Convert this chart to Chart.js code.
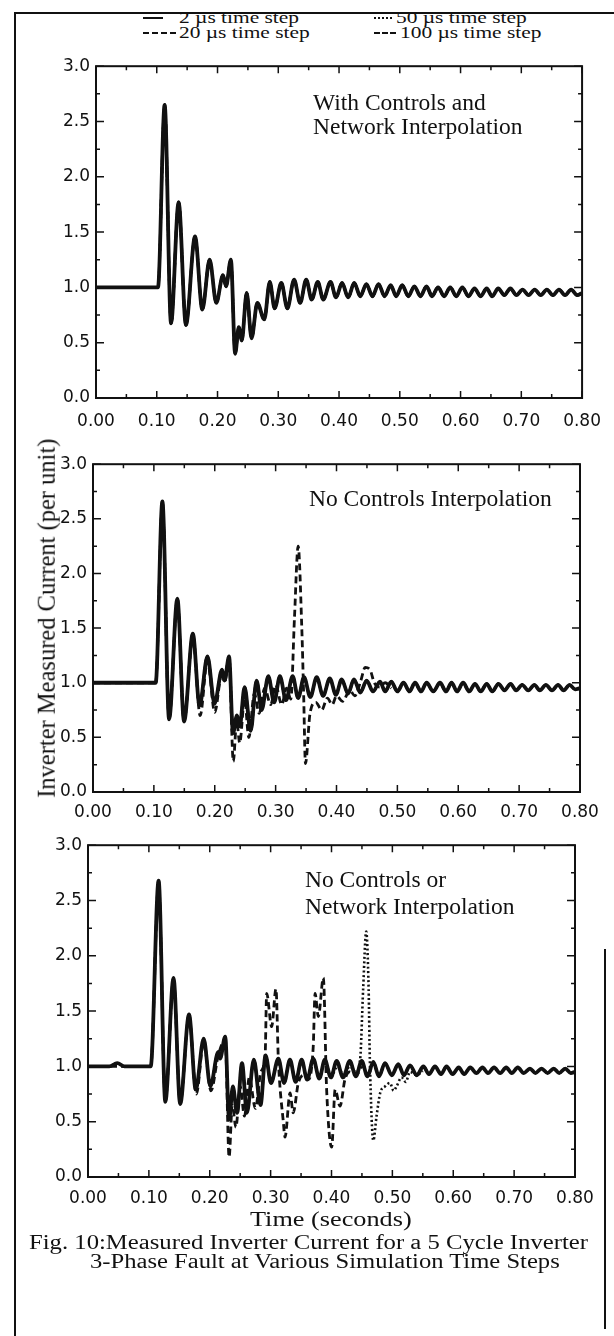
<!DOCTYPE html>
<html>
<head>
<meta charset="utf-8">
<script src="https://cdn.jsdelivr.net/npm/chart.js@4.4.0/dist/chart.umd.min.js"></script>
<style>
    body { margin: 0; background: #fff; }
    #page { position: relative; width: 614px; height: 1336px; overflow: hidden; color: #111;
            font-family: "Liberation Serif", "Times New Roman", serif; }
    .line { position: absolute; background: #111; }
    .txt { position: absolute; white-space: nowrap; line-height: 1; transform-origin: left center; }
    .sample { position: absolute; height: 0; border-top: 2px solid #111; }
    canvas { position: absolute; left: 0; }
</style>
</head>
<body>
<div id="page">
    <div class="line" style="left:14px;top:12px;width:2px;height:1324px"></div>
    <div class="line" style="left:14px;top:12px;width:600px;height:2px"></div>
    <div class="line" style="left:604px;top:949px;width:2px;height:380px"></div>

    <span class="sample" style="left:143px;top:17px;width:20px"></span>
    <div class="txt" style="left:179px;top:9px;font-size:17px;transform:scaleX(1.26)">2 µs time step</div>
    <span class="sample" style="left:374px;top:17px;width:18px;border-top-style:dotted"></span>
    <div class="txt" style="left:396px;top:9px;font-size:17px;transform:scaleX(1.26)">50 µs time step</div>
    <span class="sample" style="left:143px;top:32px;width:33px;border-top-style:dashed"></span>
    <div class="txt" style="left:179px;top:24px;font-size:17px;transform:scaleX(1.26)">20 µs time step</div>
    <span class="sample" style="left:374px;top:32px;width:22px;border-top-style:dashed"></span>
    <div class="txt" style="left:400px;top:24px;font-size:17px;transform:scaleX(1.26)">100 µs time step</div>

    <canvas id="c1" width="614" height="385" style="top:50px"></canvas>
    <canvas id="c2" width="614" height="380" style="top:448px"></canvas>
    <canvas id="c3" width="614" height="384" style="top:829px"></canvas>

    <div class="txt" style="left:313px;top:91px;font-size:23.5px">With Controls and</div>
    <div class="txt" style="left:313px;top:115px;font-size:23.5px">Network Interpolation</div>
    <div class="txt" style="left:309px;top:487px;font-size:23.5px">No Controls Interpolation</div>
    <div class="txt" style="left:305px;top:868px;font-size:23.5px">No Controls or</div>
    <div class="txt" style="left:305px;top:895px;font-size:23.5px">Network Interpolation</div>

    <div class="txt" style="left:-153px;top:606px;width:400px;text-align:center;font-size:24.5px;transform:rotate(-90deg);transform-origin:center">Inverter Measured Current (per unit)</div>
    <div class="txt" style="left:250px;top:1209px;font-size:21px;transform:scaleX(1.25)">Time (seconds)</div>
    <div class="txt" style="left:29px;top:1232px;font-size:20px;transform:scaleX(1.235)">Fig. 10:Measured Inverter Current for a 5 Cycle Inverter</div>
    <div class="txt" style="left:90px;top:1251px;font-size:20px;transform:scaleX(1.23)">3-Phase Fault at Various Simulation Time Steps</div>
</div>
<script>
// panel 1: with controls and network interpolation (all time steps overlap)
const p1Time = [0, 0.102, 0.113, 0.1235, 0.136, 0.148, 0.163, 0.175, 0.187, 0.198,
    0.209, 0.214, 0.222, 0.229, 0.235, 0.240, 0.248, 0.256, 0.2655, 0.277,
    0.286, 0.294, 0.305, 0.315, 0.326, 0.336, 0.346, 0.355, 0.365, 0.374,
    0.386, 0.395, 0.405, 0.415, 0.425, 0.435, 0.445, 0.455, 0.465, 0.475,
    0.485, 0.494, 0.504, 0.514, 0.524, 0.534, 0.544, 0.553, 0.563, 0.573,
    0.583, 0.593, 0.603, 0.613, 0.623, 0.633, 0.643, 0.652, 0.662, 0.672,
    0.682, 0.692, 0.702, 0.712, 0.722, 0.732, 0.742, 0.752, 0.762, 0.772,
    0.782, 0.792, 0.80];
const p1Current = [1.0, 1.0, 2.65, 0.675, 1.77, 0.66, 1.46, 0.80, 1.25, 0.86,
    1.11, 1.01, 1.25, 0.40, 0.64, 0.52, 0.95, 0.54, 0.86, 0.71,
    1.05, 0.81, 1.04, 0.81, 1.07, 0.86, 1.07, 0.89, 1.05, 0.89,
    1.05, 0.91, 1.04, 0.91, 1.04, 0.92, 1.03, 0.92, 1.03, 0.92,
    1.02, 0.92, 1.02, 0.92, 1.01, 0.92, 1.01, 0.92, 1.0, 0.92,
    1.0, 0.92, 1.0, 0.92, 0.99, 0.92, 0.99, 0.92, 0.99, 0.93,
    0.99, 0.93, 0.98, 0.93, 0.98, 0.93, 0.98, 0.93, 0.98, 0.93,
    0.98, 0.93, 0.95];

// panel 2: no controls interpolation
const p2Time = [0, 0.103, 0.114, 0.125, 0.1386, 0.1496, 0.164, 0.175, 0.188, 0.1997,
    0.212, 0.216, 0.2235, 0.230, 0.2365, 0.241, 0.249, 0.259, 0.2687, 0.277,
    0.288, 0.2976, 0.307, 0.317, 0.328, 0.337, 0.3466, 0.357, 0.3675, 0.378,
    0.389, 0.399, 0.4085, 0.419, 0.4287, 0.439, 0.4496, 0.46, 0.4715, 0.48,
    0.49, 0.50, 0.51, 0.52, 0.529, 0.539, 0.548, 0.559, 0.570, 0.58,
    0.589, 0.598, 0.608, 0.618, 0.6275, 0.637, 0.6467, 0.656, 0.666, 0.676,
    0.686, 0.695, 0.705, 0.715, 0.725, 0.734, 0.744, 0.754, 0.764, 0.773,
    0.783, 0.792, 0.80];
const p2Current = [1.0, 1.0, 2.66, 0.665, 1.77, 0.645, 1.45, 0.79, 1.24, 0.81,
    1.12, 1.02, 1.24, 0.54, 0.70, 0.60, 0.96, 0.56, 1.02, 0.75,
    1.06, 0.82, 1.06, 0.84, 1.06, 0.86, 1.05, 0.87, 1.05, 0.88,
    1.04, 0.89, 1.03, 0.90, 1.03, 0.91, 1.02, 0.92, 1.01, 0.92,
    1.01, 0.92, 1.0, 0.92, 1.0, 0.92, 1.0, 0.92, 1.0, 0.92,
    1.0, 0.92, 1.0, 0.92, 0.99, 0.92, 0.99, 0.92, 0.99, 0.93,
    0.99, 0.93, 0.98, 0.93, 0.98, 0.93, 0.98, 0.93, 0.98, 0.93,
    0.98, 0.94, 0.95];
const p2Dash100Time = [0, 0.103, 0.114, 0.125, 0.1386, 0.1496, 0.164, 0.176, 0.188, 0.200,
    0.212, 0.216, 0.2235, 0.2305, 0.236, 0.241, 0.249, 0.256, 0.265, 0.273,
    0.282, 0.292, 0.30, 0.31, 0.318, 0.325, 0.331, 0.337, 0.343, 0.346,
    0.349, 0.3565, 0.366, 0.3757, 0.385, 0.393, 0.40, 0.41, 0.422, 0.43,
    0.44, 0.447, 0.455, 0.462, 0.471, 0.48, 0.49];
const p2Dash100Current = [1.0, 1.0, 2.62, 0.68, 1.74, 0.66, 1.42, 0.70, 1.20, 0.73,
    1.10, 1.0, 1.20, 0.28, 0.65, 0.45, 0.85, 0.50, 0.90, 0.72,
    0.95, 0.80, 0.98, 0.80, 0.95, 0.85, 1.60, 2.25, 1.50, 0.90,
    0.26, 0.72, 0.82, 0.75, 0.86, 0.80, 0.88, 0.83, 0.93, 0.88,
    1.02, 1.14, 1.12, 1.0, 0.96, 1.0, 0.95];

// panel 3: no controls or network interpolation
const p3Time = [0, 0.035, 0.048, 0.06, 0.103, 0.116, 0.127, 0.1405, 0.1514, 0.166,
    0.177, 0.190, 0.201, 0.214, 0.217, 0.2254, 0.2318, 0.238, 0.2448, 0.253,
    0.261, 0.2724, 0.2834, 0.2917, 0.3006, 0.3127, 0.322, 0.3318, 0.341, 0.351,
    0.360, 0.370, 0.380, 0.389, 0.399, 0.4085, 0.419, 0.430, 0.44, 0.4496,
    0.459, 0.4687, 0.478, 0.4879, 0.499, 0.5097, 0.519, 0.529, 0.54, 0.551,
    0.56, 0.570, 0.58, 0.589, 0.599, 0.609, 0.618, 0.628, 0.638, 0.648,
    0.657, 0.667, 0.677, 0.687, 0.696, 0.706, 0.716, 0.726, 0.735, 0.745,
    0.755, 0.765, 0.774, 0.784, 0.793, 0.80];
const p3Current = [1.0, 1.0, 1.03, 1.0, 1.0, 2.68, 0.68, 1.80, 0.66, 1.47,
    0.79, 1.25, 0.82, 1.13, 1.07, 1.27, 0.52, 0.82, 0.58, 1.03,
    0.58, 1.06, 0.65, 1.10, 0.85, 1.07, 0.85, 1.06, 0.86, 1.06,
    0.88, 1.07, 0.89, 1.06, 0.90, 1.05, 0.90, 1.05, 0.91, 1.05,
    0.91, 1.04, 0.91, 1.03, 0.92, 1.02, 0.92, 1.01, 0.92, 1.0,
    0.93, 1.0, 0.93, 1.0, 0.93, 0.99, 0.93, 0.99, 0.94, 0.99,
    0.94, 0.99, 0.94, 0.99, 0.94, 0.99, 0.94, 0.98, 0.94, 0.98,
    0.94, 0.98, 0.94, 0.98, 0.94, 0.95];
const p3Dash100Time = [0, 0.103, 0.116, 0.127, 0.1405, 0.1514, 0.166, 0.178, 0.190, 0.202,
    0.214, 0.2254, 0.2318, 0.237, 0.243, 0.25, 0.257, 0.265, 0.275, 0.284,
    0.291, 0.2935, 0.3017, 0.3088, 0.3127, 0.321, 0.3236, 0.332, 0.337, 0.3455,
    0.355, 0.362, 0.370, 0.373, 0.3784, 0.3866, 0.392, 0.4003, 0.406, 0.414,
    0.422, 0.43, 0.44, 0.45];
const p3Dash100Current = [1.0, 1.0, 2.64, 0.70, 1.76, 0.68, 1.44, 0.75, 1.22, 0.78,
    1.10, 1.24, 0.18, 0.65, 0.45, 0.82, 0.55, 0.90, 0.62, 0.95,
    1.10, 1.66, 1.36, 1.70, 1.06, 0.49, 0.36, 0.76, 0.58, 0.85,
    0.92, 0.88, 1.18, 1.66, 1.45, 1.80, 0.79, 0.27, 0.79, 0.64,
    0.88, 0.95, 0.92, 1.0];
const p3Dot50Time = [0.40, 0.41, 0.42, 0.43, 0.44, 0.447, 0.452, 0.457, 0.461, 0.463,
    0.4687, 0.474, 0.48, 0.488, 0.496, 0.502, 0.507, 0.515, 0.522, 0.529,
    0.54, 0.55];
const p3Dot50Current = [0.90, 1.0, 0.92, 1.0, 0.95, 1.06, 1.70, 2.22, 1.70, 1.06,
    0.33, 0.55, 0.76, 0.82, 0.85, 0.78, 0.82, 0.90, 0.86, 0.95,
    0.92, 0.96];

const xTicks = [0, 0.1, 0.2, 0.3, 0.4, 0.5, 0.6, 0.7, 0.8];
const yTicks = [0, 0.5, 1.0, 1.5, 2.0, 2.5, 3.0];

const ink = '#111';
const styles = {
    us2:   { borderColor: ink, borderWidth: 3.8 },
    us20:  { borderColor: ink, borderWidth: 2.6, borderDash: [5, 3] },
    us50:  { borderColor: ink, borderWidth: 2.6, borderDash: [2, 2.5] },
    us100: { borderColor: ink, borderWidth: 2.8, borderDash: [7, 4] }
};

function series(times, values, style) {
    return Object.assign({
        data: times.map((t, i) => ({ x: t, y: values[i] })),
        pointRadius: 0,
        fill: false,
        cubicInterpolationMode: 'monotone'
    }, style);
}

// box with inward major and minor ticks on all four sides
const boxTicks = {
    id: 'boxTicks',
    afterDatasetsDraw(chart) {
        const { ctx, chartArea: a, scales: { x, y } } = chart;
        ctx.save();
        ctx.strokeStyle = ink;
        ctx.lineWidth = 2;
        ctx.strokeRect(a.left, a.top, a.right - a.left, a.bottom - a.top);
        ctx.lineWidth = 1.5;
        ctx.beginPath();
        xTicks.forEach((v, i) => {
            const px = x.getPixelForValue(v);
            ctx.moveTo(px, a.bottom); ctx.lineTo(px, a.bottom - 7);
            ctx.moveTo(px, a.top); ctx.lineTo(px, a.top + 7);
            if (i < xTicks.length - 1) {
                const mx = x.getPixelForValue((v + xTicks[i + 1]) / 2);
                ctx.moveTo(mx, a.bottom); ctx.lineTo(mx, a.bottom - 4);
                ctx.moveTo(mx, a.top); ctx.lineTo(mx, a.top + 4);
            }
        });
        yTicks.forEach((v, i) => {
            const py = y.getPixelForValue(v);
            ctx.moveTo(a.left, py); ctx.lineTo(a.left + 8, py);
            ctx.moveTo(a.right, py); ctx.lineTo(a.right - 8, py);
            if (i < yTicks.length - 1) {
                const my = y.getPixelForValue((v + yTicks[i + 1]) / 2);
                ctx.moveTo(a.left, my); ctx.lineTo(a.left + 4, my);
                ctx.moveTo(a.right, my); ctx.lineTo(a.right - 4, my);
            }
        });
        ctx.stroke();
        ctx.restore();
    }
};

function makePanel(id, box, datasets) {
    const canvas = document.getElementById(id);
    const tickFont = { family: '"DejaVu Sans", sans-serif', size: 17 };
    return new Chart(canvas.getContext('2d'), {
        type: 'line',
        data: { datasets: datasets },
        options: {
            responsive: false,
            animation: false,
            devicePixelRatio: 1,
            layout: { padding: { left: 0, right: 614 - box.right, top: box.top - box.canvasTop, bottom: 0 } },
            plugins: { legend: { display: false }, tooltip: { enabled: false } },
            scales: {
                x: {
                    type: 'linear', min: 0, max: 0.8,
                    grid: { display: false, drawTicks: false },
                    border: { display: false },
                    afterBuildTicks: s => { s.ticks = xTicks.map(v => ({ value: v })); },
                    ticks: { color: ink, font: tickFont, padding: box.labelPad, maxRotation: 0,
                             autoSkip: false, callback: v => v.toFixed(2) },
                    afterFit: s => { s.height = box.canvasTop + canvas.height - box.bottom; }
                },
                y: {
                    min: 0, max: 3,
                    grid: { display: false, drawTicks: false },
                    border: { display: false },
                    afterBuildTicks: s => { s.ticks = yTicks.map(v => ({ value: v })); },
                    ticks: { color: ink, font: tickFont, padding: 6, callback: v => v.toFixed(1) },
                    afterFit: s => { s.width = box.left; }
                }
            }
        },
        plugins: [boxTicks]
    });
}

makePanel('c1', { canvasTop: 50, left: 96, right: 585, top: 66, bottom: 398, labelPad: 13 }, [
    series(p1Time, p1Current, styles.us2),
    series(p1Time, p1Current, styles.us20),
    series(p1Time, p1Current, styles.us50),
    series(p1Time, p1Current, styles.us100)
]);

makePanel('c2', { canvasTop: 448, left: 93, right: 580, top: 464, bottom: 792, labelPad: 10 }, [
    series(p2Time, p2Current, styles.us2),
    series(p2Time, p2Current, styles.us20),
    series(p2Time, p2Current, styles.us50),
    series(p2Dash100Time, p2Dash100Current, styles.us100)
]);

makePanel('c3', { canvasTop: 829, left: 88, right: 575, top: 845, bottom: 1177, labelPad: 11 }, [
    series(p3Time, p3Current, styles.us2),
    series(p3Time, p3Current, styles.us20),
    series(p3Dot50Time, p3Dot50Current, styles.us50),
    series(p3Dash100Time, p3Dash100Current, styles.us100)
]);
</script>
</body>
</html>
